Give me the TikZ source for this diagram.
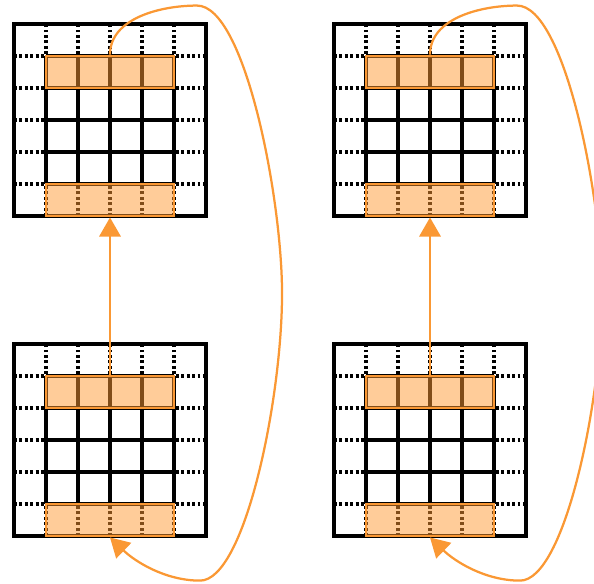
\documentclass[tikz,border=0pt]{standalone}
\usetikzlibrary{arrows.meta, positioning}

\definecolor{flowcol}{RGB}{250,152,52}
\definecolor{bandfill}{RGB}{255,153,51}

\begin{document}
\begin{tikzpicture}[
    >={Triangle[length=17pt, width=19pt]},
    padline/.style={line width=2.8pt, dash pattern=on 2.6pt off 2.2pt},
    innergrid/.style={line width=3pt},
    outerbox/.style={line width=3pt},
    hlrow/.style={rectangle, draw=flowcol, line width=2.6pt, fill=bandfill, fill opacity=0.5,
      minimum width=4cm, minimum height=1cm, inner sep=0pt},
    flow/.style={->, draw=flowcol, line width=2pt}
  ]
    \useasboundingbox (0,0) rectangle (18.5625,18.25);
    \clip (0,0) rectangle (18.5625,18.25);

    % four padded grids
    \foreach \gx/\gy/\n in {0.4375/11.5/1, 10.4375/11.5/2, 0.4375/1.5/3, 10.4375/1.5/4} {
      \begin{scope}[shift={(\gx,\gy)}]
        \foreach \k in {1,...,5} {
          \draw[padline] (\k,0) -- (\k,6);
          \draw[padline] (0,\k) -- (6,\k);
        }
        \draw[innergrid] (1,1) grid (5,5);
        \draw[outerbox] (0,0) rectangle (6,6);
        \node[hlrow] (top\n) at (3,4.5) {};
        \node[hlrow] (bot\n) at (3,0.5) {};
      \end{scope}
    }

    \draw[flow] (top3.north) -- (bot1.south);
    \draw[flow] (top4.north) -- (bot2.south);

    % wrap-around copies
    \foreach \s/\t in {1/3, 2/4} {
      \draw[flow] (top\s.north) .. controls +(0,1.125) and +(-1.156,0) .. ++(2.72,1.53)
        .. controls +(1.5,0) and +(0,2.97) .. ++(2.656,-9)
        .. controls +(0,-3.28) and +(1.406,0) .. ++(-2.5625,-8.97)
        .. controls +(-1.094,0) and +(0.78,-0.75) .. (bot\t.south);
    }
  \end{tikzpicture}
\end{document}
